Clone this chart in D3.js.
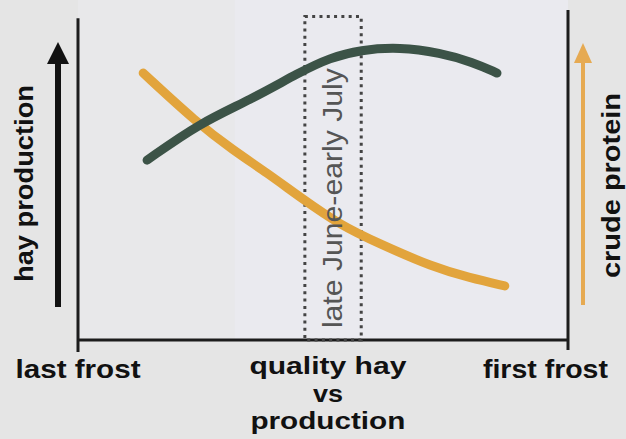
<!DOCTYPE html>
<html><head><meta charset="utf-8">
<script src="https://cdn.jsdelivr.net/npm/d3@7/dist/d3.min.js"></script>
<style>html,body{margin:0;padding:0;background:#e5e5e5;}svg{display:block;}</style>
</head><body>
<svg id="c" width="626" height="439"></svg>
<script>
// season position (0 = last frost, 100 = first frost) and relative level (0-100)
const hayTime = [14.1, 24.9, 35.1, 45.3, 51.4, 57.6, 65.7, 73.9, 80.6, 85.5];
const hayProduction = [54.5, 65.8, 72.7, 81.2, 85.5, 87.9, 88.8, 87.0, 84.2, 80.9];
const proteinTime = [13.3, 24.3, 31.6, 38.6, 45.3, 53.5, 61.6, 72.4, 80.0, 87.1];
const crudeProtein = [80.9, 65.8, 57.6, 50.6, 43.3, 34.8, 29.1, 22.1, 18.8, 16.4];
const tickValues = [0, 51, 95.4];
const tickLabels = [["last frost"], ["quality hay", "vs", "production"], ["first frost"]];
const windowRange = [46.3, 57.8];
const windowLabel = "late June-early July";
const leftLabel = "hay production";
const rightLabel = "crude protein";

const svg = d3.select("#c");
const x = d3.scaleLinear().domain([0, 100]).range([78, 568]);
const y = d3.scaleLinear().domain([0, 100]).range([340, 10]);

// plot background
svg.append("rect").attr("x", x(0)).attr("y", 0).attr("width", x(100) - x(0)).attr("height", y(0))
  .attr("fill", "#e8e8ea");
svg.append("rect").attr("x", x(32)).attr("y", 0).attr("width", x(100) - x(32)).attr("height", y(0))
  .attr("fill", "#eaeaef");

// axes
const ax = svg.append("g").attr("stroke", "#1c1c1c").attr("stroke-width", 3).attr("fill", "none");
ax.append("line").attr("x1", x(0)).attr("x2", x(0)).attr("y1", y(97.5)).attr("y2", y(-3.6));
ax.append("line").attr("x1", x(0)).attr("x2", x(100)).attr("y1", y(0)).attr("y2", y(0));
ax.append("line").attr("x1", x(100)).attr("x2", x(100)).attr("y1", y(100)).attr("y2", y(-3));

// dashed window
svg.append("rect")
  .attr("x", x(windowRange[0])).attr("y", y(98))
  .attr("width", x(windowRange[1]) - x(windowRange[0]))
  .attr("height", y(0) - y(98))
  .attr("fill", "none").attr("stroke", "#444").attr("stroke-width", 3)
  .attr("stroke-dasharray", "3,4.3");

// curves
const line = d3.line().x(d => x(d[0])).y(d => y(d[1])).curve(d3.curveBasis);
svg.append("path").datum(d3.zip(proteinTime, crudeProtein)).attr("d", line)
  .attr("fill", "none").attr("stroke", "#e2a43c").attr("stroke-width", 9).attr("stroke-linecap", "round");
svg.append("path").datum(d3.zip(hayTime, hayProduction)).attr("d", line)
  .attr("fill", "none").attr("stroke", "#3c5347").attr("stroke-width", 9).attr("stroke-linecap", "round");

// window label
const wx = (x(windowRange[0]) + x(windowRange[1])) / 2;
svg.append("text").attr("transform", `translate(${wx + 9},${y(3.6)}) rotate(-90)`)
  .attr("font-family", "Liberation Sans, Arial, sans-serif").attr("font-size", 28)
  .attr("fill", "#555").attr("textLength", 260).attr("lengthAdjust", "spacingAndGlyphs")
  .text(windowLabel);

// arrows
function arrow(cx, yTop, yBot, color, w, hw, hh) {
  svg.append("line").attr("x1", cx).attr("x2", cx).attr("y1", yTop + hh - 2).attr("y2", yBot)
    .attr("stroke", color).attr("stroke-width", w);
  svg.append("path").attr("d", `M${cx},${yTop} L${cx - hw / 2},${yTop + hh} L${cx + hw / 2},${yTop + hh} Z`).attr("fill", color);
}
arrow(58, 42, 307, "#111", 6, 22, 22);
arrow(583, 43, 305, "#e6aa52", 4, 18, 20);

// side labels
svg.append("text").attr("transform", `translate(33,${282}) rotate(-90)`)
  .attr("font-family", "Liberation Sans, Arial, sans-serif").attr("font-weight", "bold").attr("font-size", 26)
  .attr("fill", "#111").attr("textLength", 197).attr("lengthAdjust", "spacingAndGlyphs").text(leftLabel);
svg.append("text").attr("transform", `translate(620,${278}) rotate(-90)`)
  .attr("font-family", "Liberation Sans, Arial, sans-serif").attr("font-weight", "bold").attr("font-size", 26)
  .attr("fill", "#111").attr("textLength", 185).attr("lengthAdjust", "spacingAndGlyphs").text(rightLabel);

// x tick labels
const widths = {"last frost": 125, "quality hay": 157, "vs": 30, "production": 155, "first frost": 125};
const baselines = [374, 401.5, 429];
tickValues.forEach((v, i) => {
  tickLabels[i].forEach((t, j) => {
    const multi = tickLabels[i].length > 1;
    svg.append("text").attr("x", x(v)).attr("y", multi ? baselines[j] : 378)
      .attr("text-anchor", "middle")
      .attr("font-family", "Liberation Sans, Arial, sans-serif").attr("font-weight", "bold")
      .attr("font-size", multi ? 23.5 : 26)
      .attr("fill", "#111").attr("textLength", widths[t]).attr("lengthAdjust", "spacingAndGlyphs").text(t);
  });
});
</script>
</body></html>
